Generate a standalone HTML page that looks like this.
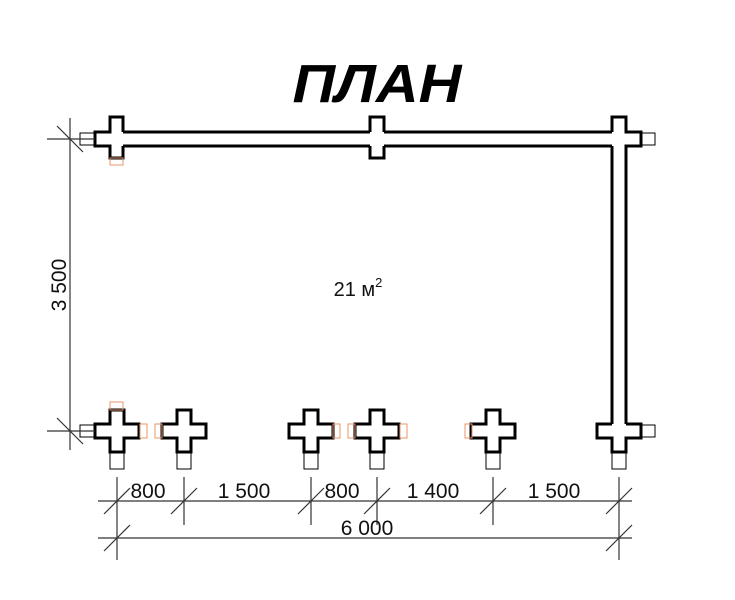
<!DOCTYPE html>
<html><head><meta charset="utf-8"><style>body{margin:0;background:#fff}svg{display:block}</style></head><body>
<svg width="735" height="600" viewBox="0 0 735 600" xmlns="http://www.w3.org/2000/svg">
<rect width="735" height="600" fill="#fff"/>
<text x="377" y="102" text-anchor="middle" font-family="Liberation Sans, sans-serif" font-weight="bold" font-style="italic" font-size="54" textLength="169" lengthAdjust="spacingAndGlyphs">ПЛАН</text>
<g fill="none" stroke="#000" stroke-width="3" stroke-linejoin="miter">
<!-- top wall -->
<line x1="123" y1="132" x2="370" y2="132"/>
<line x1="384" y1="132" x2="612" y2="132"/>
<line x1="123" y1="146" x2="370" y2="146"/>
<line x1="384" y1="146" x2="612" y2="146"/>
<!-- right wall -->
<line x1="612" y1="146" x2="612" y2="424"/>
<line x1="626" y1="158" x2="626" y2="424"/>
<!-- top-left cross -->
<path d="M123 132 V117 H110 V132 H95 V146 H110 V158 H123 V146"/>
<!-- top middle -->
<path d="M370 132 V117 H384 V132 M384 146 V158 H370 V146"/>
<!-- top right -->
<path d="M612 132 V117 H626 V132 H641 V146 H626 V158"/>
<!-- bottom right -->
<path d="M612 424 H597 V438 H612 V452 H626 V438 H641 V424 H626"/>
</g>
<g fill="none" stroke="#000" stroke-width="3">
<path id="cr" d="M110 410 H124 V424 H139 V438 H124 V452 H110 V438 H95 V424 H110 Z"/>
<use href="#cr" x="67"/>
<use href="#cr" x="194"/>
<use href="#cr" x="260"/>
<use href="#cr" x="376"/>
</g>
<g fill="none" stroke="#000" stroke-width="1">
<rect x="80" y="133" width="15" height="12"/>
<rect x="641" y="133" width="14" height="12"/>
<rect x="80" y="425" width="15" height="12"/>
<rect x="641" y="425" width="14" height="12"/>
<rect x="110" y="452" width="14" height="17"/>
<rect x="177" y="452" width="14" height="17"/>
<rect x="304" y="452" width="14" height="17"/>
<rect x="370" y="452" width="14" height="17"/>
<rect x="486" y="452" width="14" height="17"/>
<rect x="612" y="452" width="14" height="17"/>
</g>
<g fill="none" stroke="#e8956a" stroke-width="1">
<rect x="110" y="158" width="13" height="7"/>
<rect x="110" y="402" width="13" height="8"/>
<rect x="140" y="424" width="7" height="14"/>
<rect x="155" y="424" width="7" height="14"/>
<rect x="333" y="424" width="7" height="14"/>
<rect x="348" y="424" width="7" height="14"/>
<rect x="400" y="424" width="7" height="14"/>
<rect x="465" y="424" width="7" height="14"/>
</g>
<g stroke="#333" stroke-width="1.2" fill="none">
<line x1="70" y1="118" x2="70" y2="450"/>
<line x1="47" y1="139" x2="95" y2="139"/>
<line x1="47" y1="431" x2="95" y2="431"/>
<line x1="57" y1="126" x2="83" y2="152"/>
<line x1="57" y1="418" x2="83" y2="444"/>
<line x1="98" y1="501" x2="632" y2="501"/>
<line x1="98" y1="538" x2="632" y2="538"/>
<line x1="117" y1="477" x2="117" y2="560"/>
<line x1="184" y1="477" x2="184" y2="525"/>
<line x1="311" y1="477" x2="311" y2="525"/>
<line x1="377" y1="477" x2="377" y2="525"/>
<line x1="493" y1="477" x2="493" y2="525"/>
<line x1="619" y1="477" x2="619" y2="560"/>
<line x1="104" y1="514" x2="130" y2="488"/>
<line x1="171" y1="514" x2="197" y2="488"/>
<line x1="298" y1="514" x2="324" y2="488"/>
<line x1="364" y1="514" x2="390" y2="488"/>
<line x1="480" y1="514" x2="506" y2="488"/>
<line x1="606" y1="514" x2="632" y2="488"/>
<line x1="104" y1="551" x2="130" y2="525"/>
<line x1="606" y1="551" x2="632" y2="525"/>
</g>
<g font-family="Liberation Sans, sans-serif" font-size="21" fill="#111" text-anchor="middle">
<text x="148" y="498">800</text>
<text x="244" y="498">1 500</text>
<text x="342" y="498">800</text>
<text x="433" y="498">1 400</text>
<text x="554" y="498">1 500</text>
<text x="367" y="535">6 000</text>
<text transform="translate(66,285) rotate(-90)">3 500</text>
<text x="358" y="296" font-size="20">21 м<tspan font-size="13" dy="-9">2</tspan></text>
</g>
</svg>
</body></html>
